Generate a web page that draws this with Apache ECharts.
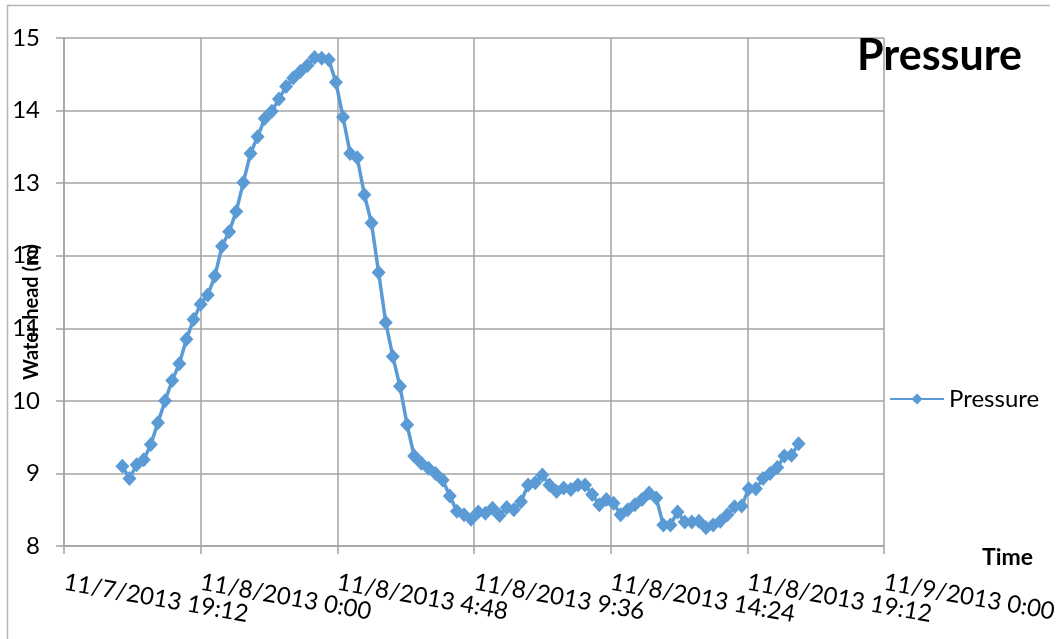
<!DOCTYPE html>
<html>
<head>
<meta charset="utf-8">
<script src="https://cdn.jsdelivr.net/npm/echarts@6/dist/echarts.min.js"></script>
<style>
  html, body { margin: 0; padding: 0; background: #fff; }
  #chart { width: 1059px; height: 639px; }
</style>
</head>
<body>
<div id="chart"></div>
<script>
const times = [
  '11/7 21:15', '11/7 21:30', '11/7 21:45', '11/7 22:00', '11/7 22:15', '11/7 22:30',
  '11/7 22:45', '11/7 23:00', '11/7 23:15', '11/7 23:30', '11/7 23:45',
  '11/8 0:00', '11/8 0:15', '11/8 0:30', '11/8 0:45', '11/8 1:00', '11/8 1:15',
  '11/8 1:30', '11/8 1:45', '11/8 2:00', '11/8 2:15', '11/8 2:30', '11/8 2:45',
  '11/8 3:00', '11/8 3:15', '11/8 3:30', '11/8 3:45', '11/8 4:00', '11/8 4:15',
  '11/8 4:30', '11/8 4:45', '11/8 5:00', '11/8 5:15', '11/8 5:30', '11/8 5:45',
  '11/8 6:00', '11/8 6:15', '11/8 6:30', '11/8 6:45', '11/8 7:00', '11/8 7:15',
  '11/8 7:30', '11/8 7:45', '11/8 8:00', '11/8 8:15', '11/8 8:30', '11/8 8:45',
  '11/8 9:00', '11/8 9:15', '11/8 9:30', '11/8 9:45', '11/8 10:00', '11/8 10:15',
  '11/8 10:30', '11/8 10:45', '11/8 11:00', '11/8 11:15', '11/8 11:30', '11/8 11:45',
  '11/8 12:00', '11/8 12:15', '11/8 12:30', '11/8 12:45', '11/8 13:00', '11/8 13:15',
  '11/8 13:30', '11/8 13:45', '11/8 14:00', '11/8 14:15', '11/8 14:30', '11/8 14:45',
  '11/8 15:00', '11/8 15:15', '11/8 15:30', '11/8 15:45', '11/8 16:00', '11/8 16:15',
  '11/8 16:30', '11/8 16:45', '11/8 17:00', '11/8 17:15', '11/8 17:30', '11/8 17:45',
  '11/8 18:00', '11/8 18:15', '11/8 18:30', '11/8 18:45', '11/8 19:00', '11/8 19:15',
  '11/8 19:30', '11/8 19:45', '11/8 20:00', '11/8 20:15', '11/8 20:30', '11/8 20:45',
  '11/8 21:00'
];

const pressure = [
  9.10, 8.93, 9.12, 9.19, 9.40, 9.70, 10.00, 10.28, 10.51, 10.85, 11.12,
  11.33, 11.46, 11.72, 12.13, 12.33, 12.61, 13.01, 13.41, 13.64, 13.89, 13.99,
  14.16, 14.33, 14.45, 14.54, 14.62, 14.73, 14.72, 14.70, 14.39, 13.91, 13.41,
  13.35, 12.84, 12.45, 11.77, 11.08, 10.61, 10.20, 9.67, 9.24, 9.14, 9.07,
  9.00, 8.91, 8.69, 8.48, 8.43, 8.37, 8.47, 8.45, 8.52, 8.42, 8.53,
  8.50, 8.61, 8.84, 8.87, 8.98, 8.84, 8.75, 8.80, 8.78, 8.84, 8.84,
  8.71, 8.57, 8.64, 8.59, 8.43, 8.50, 8.57, 8.64, 8.73, 8.66, 8.29,
  8.29, 8.47, 8.33, 8.33, 8.34, 8.25, 8.29, 8.34, 8.43, 8.54, 8.55,
  8.79, 8.79, 8.93, 9.00, 9.08, 9.24, 9.25, 9.41
];

// x axis in minutes after 11/7/2013 0:00, ticks every 4h48m
const xMin = 1152;
const xMax = 2880;
const xStep = 288;

const yMin = 8;
const yMax = 15;

function toMinutes(s) {
  const [date, clock] = s.split(' ');
  const day = +date.split('/')[1];
  const [h, m] = clock.split(':').map(Number);
  return (day - 7) * 1440 + h * 60 + m;
}

function tickLabel(v) {
  const day = 7 + Math.floor(v / 1440);
  const rest = v % 1440;
  const h = Math.floor(rest / 60);
  const m = rest % 60;
  return `11/${day}/2013 ${h}:${m < 10 ? '0' + m : m}`;
}

// the slanted labels overlap each other, so even and odd ticks go on two stacked axes
// (otherwise echarts drops some of them)
function labelsFor(parity) {
  return v => (Math.round((v - xMin) / xStep) % 2 === parity ? tickLabel(v) : '');
}

const gridColor = '#a3a3a3';
const font = 'Lato, "Open Sans", sans-serif';

const labelStyle = {
  rotate: -10,
  margin: 36,
  fontFamily: font,
  fontSize: 24,
  color: '#000',
  showMinLabel: true,
  showMaxLabel: true,
  hideOverlap: false,
};

const myChart = echarts.init(document.getElementById('chart'));
myChart.setOption({
  backgroundColor: '#fff',
  animation: false,
  title: {
    text: 'Pressure',
    left: 852,
    top: 30,
    textStyle: { fontFamily: font, fontWeight: 'bold', fontSize: 43, color: '#000' },
  },
  legend: {
    left: 884,
    top: 382,
    itemWidth: 54,
    itemHeight: 14,
    itemGap: 6,
    textStyle: { fontFamily: font, fontSize: 24, color: '#000' },
    data: ['Pressure'],
  },
  grid: {
    left: 64,
    right: 175,
    top: 38,
    bottom: 93,
    outerBoundsMode: 'none',
  },
  xAxis: [
    {
      type: 'value',
      position: 'bottom',
      min: xMin,
      max: xMax,
      interval: xStep,
      name: 'Time',
      nameLocation: 'end',
      nameGap: 98,
      nameTextStyle: {
        fontFamily: font, fontWeight: 'bold', fontSize: 23, color: '#000',
        align: 'left', verticalAlign: 'top',
      },
      axisLine: { show: true, lineStyle: { color: gridColor, width: 1.5 } },
      axisTick: { show: true, length: 8, lineStyle: { color: gridColor, width: 1.5 } },
      splitLine: { show: true, lineStyle: { color: gridColor, width: 1.5 } },
      axisLabel: { ...labelStyle, formatter: labelsFor(0) },
    },
    {
      type: 'value',
      position: 'bottom',
      offset: 0,
      min: xMin,
      max: xMax,
      interval: xStep,
      axisLine: { show: false },
      axisTick: { show: false },
      splitLine: { show: false },
      axisLabel: { ...labelStyle, formatter: labelsFor(1) },
    },
  ],
  yAxis: {
    type: 'value',
    min: yMin,
    max: yMax,
    interval: 1,
    axisLine: { show: true, lineStyle: { color: gridColor, width: 1.5 } },
    axisTick: { show: true, length: 8, lineStyle: { color: gridColor, width: 1.5 } },
    splitLine: { show: true, lineStyle: { color: gridColor, width: 1.5 } },
    axisLabel: { margin: 24, fontFamily: font, fontSize: 24, color: '#000' },
  },
  graphic: [
    {
      type: 'polyline',
      shape: { points: [[1050, 5.5], [7.5, 5.5], [7.5, 639]] },
      style: { stroke: '#b5b5b5', lineWidth: 1.5, fill: null },
      silent: true,
    },
    {
      type: 'text',
      x: 32,
      y: 312,
      rotation: Math.PI / 2,
      style: {
        text: 'Water head (m)',
        fontFamily: font,
        fontWeight: 'bold',
        fontSize: 20,
        fill: '#000',
        align: 'center',
        verticalAlign: 'middle',
      },
      silent: true,
    },
  ],
  series: [
    {
      name: 'Pressure',
      type: 'line',
      xAxisIndex: 0,
      symbol: 'diamond',
      symbolSize: [14, 15],
      showAllSymbol: true,
      itemStyle: { color: '#5b9bd5' },
      lineStyle: { color: '#5b9bd5', width: 3.5 },
      data: times.map((t, i) => [toMinutes(t), pressure[i]]),
    },
  ],
});
</script>
</body>
</html>
